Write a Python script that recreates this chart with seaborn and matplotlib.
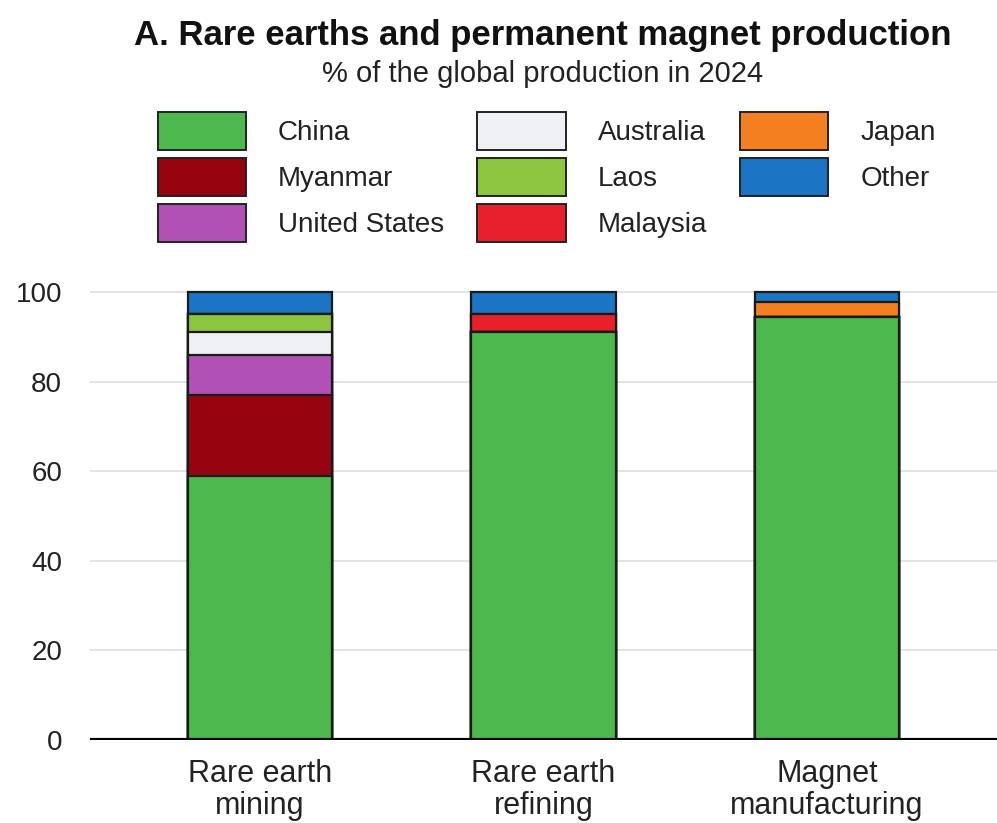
import matplotlib
matplotlib.use("Agg")
import matplotlib.pyplot as plt
from matplotlib.patches import Patch
import seaborn as sns
import numpy as np
import pandas as pd

categories = ["Rare earth\nmining", "Rare earth\nrefining", "Magnet\nmanufacturing"]
countries = ["China", "Myanmar", "United States", "Australia", "Laos", "Malaysia", "Japan", "Other"]
china = [59, 91, 94.4]
myanmar = [18, 0, 0]
united_states = [9, 0, 0]
australia = [5, 0, 0]
laos = [4, 0, 0]
malaysia = [0, 4, 0]
japan = [0, 0, 3.4]
other = [5, 5, 2.2]
colors = ["#4cb84e", "#960410", "#b150b5", "#eef0f3", "#8cc63f", "#e8202b", "#f47f20", "#1c75c4"]

series = [china, myanmar, united_states, australia, laos, malaysia, japan, other]

sns.set_theme(style="white")
plt.rcParams["font.family"] = ["Liberation Sans", "DejaVu Sans"]

fig = plt.figure(figsize=(9.97, 8.23), dpi=100)
W, H = 997, 823
ax = fig.add_axes([90 / W, 83 / H, (W - 90) / W, 448 * 1.01 / H])

cum = np.cumsum(np.array(series, dtype=float), axis=0)
# draw from top-most cumulative layer down so each layer covers the ones above it
for i in range(len(countries) - 1, -1, -1):
    df = pd.DataFrame({"cat": categories, "top": cum[i]})
    sns.barplot(data=df, x="cat", y="top", color=colors[i], saturation=1,
                width=0.51, edgecolor="#1a1a1a", linewidth=1.6, ax=ax, zorder=2)

ax.set_xlim(-0.6, 2.6)
ax.set_ylim(0, 101)
ax.set_yticks([0, 20, 40, 60, 80, 100])
ax.set_xlabel("")
ax.set_ylabel("")
ax.yaxis.grid(True, color="#e2e2e2", linewidth=1.3)
ax.set_axisbelow(True)
for s in ax.spines.values():
    s.set_visible(False)
ax.axhline(0, color="black", linewidth=3, zorder=3)
ax.tick_params(axis="y", length=0, pad=20, labelsize=20, labelcolor="#222222")
ax.tick_params(axis="x", length=0, pad=14, labelsize=22, labelcolor="#222222")
for lab in ax.get_xticklabels():
    lab.set_linespacing(1.05)

fig.text(543 / W, 1 - 35 / H, "A. Rare earths and permanent magnet production",
         ha="center", va="center", fontsize=25, fontweight="bold", color="#111111")
fig.text(543 / W, 1 - 74 / H, "% of the global production in 2024",
         ha="center", va="center", fontsize=21, color="#222222")

handles = [Patch(facecolor=c, edgecolor="#222222", linewidth=1.4) for c in colors]
fig.legend(handles, countries, ncol=3, loc="upper left",
           bbox_to_anchor=(158 / W, 1 - 112 / H), frameon=False, fontsize=20,
           handlelength=3.17, handleheight=1.75, handletextpad=1.15,
           columnspacing=1.2, labelspacing=0.27, borderpad=0, borderaxespad=0,
           labelcolor="#222222")

fig.savefig("out.png", dpi=100)
